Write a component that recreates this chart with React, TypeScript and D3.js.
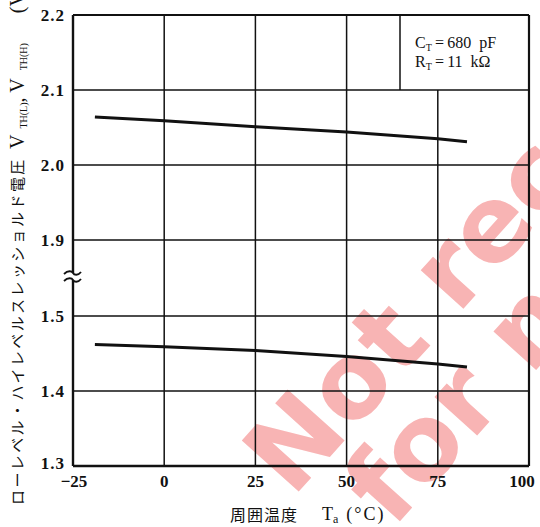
import React from "react";
import * as d3 from "d3";

// ---- data ----
const temps = [-19, 0, 25, 50, 75, 83];
const vthH = [2.064, 2.059, 2.051, 2.044, 2.035, 2.031];
const vthL = [1.462, 1.459, 1.454, 1.446, 1.436, 1.432];
const xTicks = [-25, 0, 25, 50, 75, 100];
const xTickLabels = ["\u221225", "0", "25", "50", "75", "100"];
const yTicksUpper = [1.9, 2.0, 2.1, 2.2];
const yTicksLower = [1.3, 1.4, 1.5];
const yLabelsUpper = ["1.9", "2.0", "2.1", "2.2"];
const yLabelsLower = ["1.3", "1.4", "1.5"];

const W = 540;
const H = 527;
const L = 73;
const R = 529;
const T = 15;
const B = 466;
const BREAK_Y = 276;

const x = d3.scaleLinear().domain([-25, 100]).range([L, R]);
const yU = d3.scaleLinear().domain([1.9, 2.2]).range([240, T]);
const yL = d3.scaleLinear().domain([1.3, 1.5]).range([B, 316]);

export default function App() {
  const lineU = d3
    .line<number>()
    .x((_, i) => x(temps[i]))
    .y((d) => yU(d));
  const lineL = d3
    .line<number>()
    .x((_, i) => x(temps[i]))
    .y((d) => yL(d));

  const legendX = 400;
  const legendBottom = yU(2.1);
  const tickFont = "'Liberation Serif', serif";
  const cjk = "'Noto Sans CJK JP', sans-serif";
  const ink = "#111";

  const wave = (y0: number) =>
    `M${L - 9},${y0 + 1} C${L - 5},${y0 - 3} ${L - 1},${y0 - 2} ${L},${y0} S${L + 5},${y0 + 3} ${L + 8},${y0 - 1}`;

  return (
    <svg
      width={W}
      height={H}
      viewBox={`0 0 ${W} ${H}`}
      style={{ position: "absolute", left: 0, top: 0, background: "#fff" }}
    >
      <rect x={0} y={0} width={W} height={H} fill="#fff" />
      {/* watermark */}
      <g transform="rotate(-48)" fill="#f8b4b4" fontFamily="'DejaVu Sans', sans-serif" fontWeight="bold" fontSize={105}>
        <text x={-175} y={551}>Not recommended</text>
        <text x={-131} y={646}>for new design</text>
      </g>

      {/* horizontal gridlines */}
      {[2.1, 2.0, 1.9].map((v) => (
        <line key={"hu" + v} x1={L} x2={R} y1={yU(v)} y2={yU(v)} stroke={ink} strokeWidth={1.5} />
      ))}
      {[1.5, 1.4].map((v) => (
        <line key={"hl" + v} x1={L} x2={R} y1={yL(v)} y2={yL(v)} stroke={ink} strokeWidth={1.5} />
      ))}
      {/* vertical gridlines */}
      {[0, 25, 50].map((t) => (
        <line key={"v" + t} x1={x(t)} x2={x(t)} y1={T} y2={B} stroke={ink} strokeWidth={1.5} />
      ))}
      <line x1={x(75)} x2={x(75)} y1={legendBottom} y2={B} stroke={ink} strokeWidth={1.5} />
      {/* legend box */}
      <line x1={legendX} x2={legendX} y1={T} y2={legendBottom} stroke={ink} strokeWidth={1.5} />
      <g fontFamily={tickFont} fontSize={16} fill={ink}>
        <text x={415} y={48}>
          C<tspan fontSize={10} dy={3}>T</tspan>
          <tspan dy={-3}>{"\u2009=\u2009680\u2002pF"}</tspan>
        </text>
        <text x={415} y={67}>
          R<tspan fontSize={10} dy={3}>T</tspan>
          <tspan dy={-3}>{"\u2009=\u200911\u2002k\u03a9"}</tspan>
        </text>
      </g>

      {/* frame */}
      <line x1={L} x2={R} y1={T} y2={T} stroke={ink} strokeWidth={2.2} />
      <line x1={R} x2={R} y1={T} y2={B} stroke={ink} strokeWidth={2.2} />
      <line x1={L} x2={R} y1={B} y2={B} stroke={ink} strokeWidth={2.4} />
      <line x1={L} x2={L} y1={T} y2={BREAK_Y - 3} stroke={ink} strokeWidth={2.4} />
      <line x1={L} x2={L} y1={BREAK_Y + 4} y2={B} stroke={ink} strokeWidth={2.4} />
      <rect x={L - 10} y={BREAK_Y - 3} width={20} height={7} fill="#fff" />
      <path d={wave(BREAK_Y - 3)} fill="none" stroke={ink} strokeWidth={1.8} />
      <path d={wave(BREAK_Y + 4)} fill="none" stroke={ink} strokeWidth={1.8} />

      {/* curves */}
      <path d={lineU(vthH) || ""} fill="none" stroke={ink} strokeWidth={3} />
      <path d={lineL(vthL) || ""} fill="none" stroke={ink} strokeWidth={3} />

      {/* y tick labels */}
      <g fontFamily={tickFont} fontWeight="bold" fontSize={17} fill={ink} textAnchor="end">
        {yTicksUpper.map((v, i) => (
          <text key={"yu" + v} x={65} y={yU(v)} dy="0.35em" letterSpacing={1}>
            {yLabelsUpper[i]}
          </text>
        ))}
        {yTicksLower.map((v, i) => (
          <text key={"yl" + v} x={65} y={yL(v)} dy={i === 0 ? "0.2em" : "0.35em"} letterSpacing={1}>
            {yLabelsLower[i]}
          </text>
        ))}
      </g>
      {/* x tick labels */}
      <g fontFamily={tickFont} fontWeight="bold" fontSize={17} fill={ink} textAnchor="middle">
        {xTicks.map((t, i) => (
          <text key={"x" + t} x={x(t)} y={487} dx={i === xTicks.length - 1 ? -7 : i === 0 ? 1 : 0}>
            {xTickLabels[i]}
          </text>
        ))}
      </g>

      {/* x axis title */}
      <text x={230} y={521} fontSize={16} fill={ink} fontFamily={cjk} letterSpacing={1}>
        周囲温度
      </text>
      <text x={322} y={520} fontSize={18} fill={ink} fontFamily={tickFont}>
        T<tspan fontSize={12} dy={3}>a</tspan>
        <tspan dy={-3} dx={8} letterSpacing={2}>(°C)</tspan>
      </text>

      {/* y axis title */}
      <g fill={ink}>
        <text transform="translate(23,505) rotate(-90)" fontSize={15} fontFamily={cjk} letterSpacing={2.4}>
          ローレベル・ハイレベルスレッショルド電圧
        </text>
        <text transform="translate(24,149) rotate(-90)" fontFamily={tickFont} fontSize={20}>
          V<tspan fontSize={10} dy={3} dx={6}>TH(L)</tspan>
          <tspan dy={-3}>, V</tspan>
          <tspan fontSize={10} dy={3} dx={8}>TH(H)</tspan>
          <tspan dy={-3} dx={30}>(V)</tspan>
        </text>
      </g>
    </svg>
  );
}
